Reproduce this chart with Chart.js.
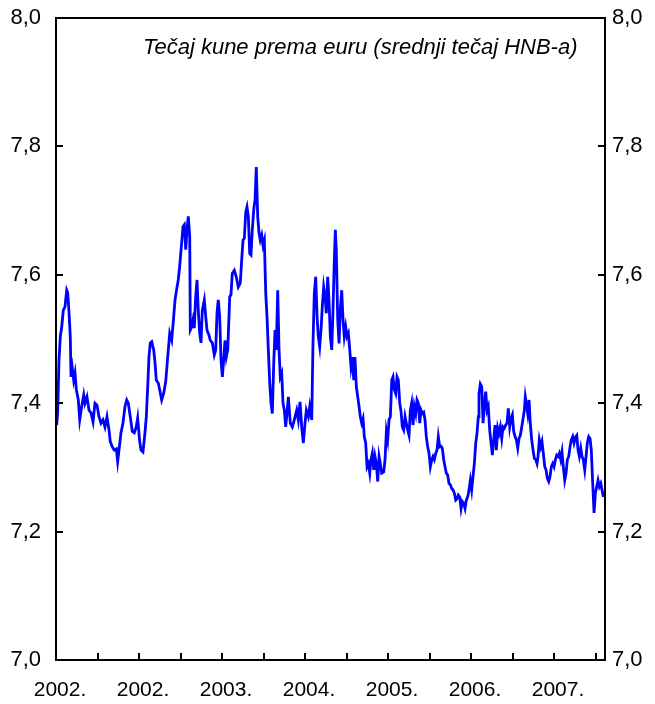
<!DOCTYPE html>
<html>
<head>
<meta charset="utf-8">
<script src="https://cdn.jsdelivr.net/npm/chart.js@4"></script>
<style>
html,body{margin:0;padding:0;background:#fff;}
#wrap{width:655px;height:704px;}
</style>
</head>
<body>
<div id="wrap"><canvas id="c" width="655" height="704"></canvas></div>
<script>
// Position in years from the start of the axis
const yearPos = [
0.008,0.020,0.036,0.052,0.069,0.088,0.108,0.129,0.141,0.157,0.172,0.181,0.196,0.213,0.229,0.245,0.269,0.286,0.310,0.334,
0.349,0.373,0.398,0.422,0.446,0.470,0.494,0.518,0.542,0.566,0.590,0.614,0.639,0.654,0.678,0.702,0.727,0.743,0.759,0.783,
0.807,0.831,0.852,0.871,0.895,0.919,0.943,0.967,0.984,
1.006,1.024,1.048,1.072,1.088,1.105,1.120,1.136,1.153,1.177,1.193,1.208,1.233,1.249,1.273,1.298,1.322,1.346,1.370,1.394,
1.418,1.434,1.458,1.473,1.490,1.514,1.530,1.546,1.563,1.578,1.594,1.611,1.618,1.635,1.651,1.666,1.683,1.699,1.714,1.731,
1.747,1.763,1.787,1.804,1.819,1.843,1.859,1.883,1.907,1.924,1.940,1.955,
1.972,1.988,2.004,2.020,2.036,2.052,2.069,2.093,2.108,2.124,2.148,2.172,2.196,2.220,2.237,2.253,2.269,2.286,2.301,2.317,
2.334,2.349,2.365,2.382,2.398,2.413,2.430,2.446,2.461,2.478,2.494,2.510,2.527,2.542,2.558,2.575,2.590,2.606,2.623,2.639,
2.654,2.671,2.687,2.702,2.719,2.735,2.751,2.767,2.783,2.799,2.823,2.847,2.871,
2.900,2.919,2.940,2.960,2.980,3.000,3.016,3.040,3.057,3.081,3.096,3.112,3.129,3.145,3.160,3.177,3.193,3.208,3.225,3.241,
3.257,3.273,3.289,3.305,3.322,3.337,3.353,3.365,3.377,3.394,3.410,3.425,3.442,3.458,3.473,3.490,3.506,3.522,3.539,3.554,
3.570,3.587,3.602,3.618,3.635,3.651,3.666,3.683,3.699,3.714,3.731,3.747,3.763,3.780,3.795,3.811,3.828,3.843,3.859,3.876,
3.892,3.907,3.924,3.948,3.964,3.980,3.996,4.012,4.028,4.045,4.060,4.076,4.093,4.108,4.124,4.141,4.157,4.172,4.189,4.205,
4.220,4.237,4.253,4.269,4.285,4.301,4.317,4.334,4.349,4.365,4.382,4.398,4.413,4.430,4.446,4.461,4.478,4.494,4.510,4.527,
4.542,4.558,4.575,4.590,4.606,4.623,4.639,4.654,4.671,4.687,4.702,4.719,4.735,4.751,4.767,4.783,4.799,
4.816,4.831,4.847,4.864,4.880,4.895,4.912,4.928,4.943,4.960,4.976,4.992,5.008,5.024,5.040,5.057,5.072,5.088,5.096,5.112,
5.129,5.145,5.160,5.177,5.193,5.208,5.225,5.241,5.257,5.273,5.289,5.305,5.322,5.337,5.353,5.370,5.386,5.401,5.418,5.434,
5.449,5.466,5.482,5.498,5.514,5.530,5.546,5.563,5.578,5.594,5.611,5.627,5.642,5.654,5.666,5.683,5.699,5.714,
5.731,5.747,5.763,5.780,5.795,5.807,5.823,5.840,5.855,5.871,5.888,5.904,5.919,5.936,5.952,5.967,5.984,6.000,6.016,6.033,
6.048,6.064,6.081,6.096,6.112,6.129,6.145,6.160,6.177,6.193,6.208,6.225,6.241,6.257,6.274,6.289,6.305,6.322,6.337,6.353,
6.370,6.386,6.401,6.418,6.434,6.449,6.466,6.482,6.498,6.514,6.530,6.546,6.563,6.578,6.594
];
// Kuna per euro (HNB middle rate)
const rate = [
7.366,7.385,7.467,7.504,7.519,7.545,7.550,7.576,7.572,7.541,7.504,7.441,7.455,7.436,7.447,7.421,7.405,7.374,7.395,7.413,
7.400,7.410,7.389,7.385,7.371,7.400,7.397,7.379,7.369,7.374,7.363,7.379,7.358,7.340,7.332,7.327,7.329,7.309,7.327,7.354,
7.369,7.395,7.405,7.400,7.379,7.356,7.354,7.363,7.377,
7.343,7.327,7.324,7.354,7.379,7.426,7.472,7.494,7.496,7.483,7.463,7.436,7.431,7.421,7.405,7.416,7.434,7.472,7.509,7.498,
7.535,7.561,7.581,7.592,7.613,7.650,7.675,7.678,7.639,7.670,7.691,7.659,7.514,7.519,7.530,7.517,7.566,7.592,7.545,7.509,
7.494,7.545,7.561,7.535,7.514,7.506,7.498,7.494,7.475,7.483,7.541,7.561,
7.535,7.467,7.441,7.467,7.498,7.472,7.483,7.566,7.569,7.602,7.607,7.597,7.581,7.587,7.623,7.654,7.657,7.698,7.706,7.691,
7.633,7.631,7.670,7.701,7.717,7.768,7.691,7.665,7.654,7.662,7.646,7.654,7.571,7.535,7.483,7.431,7.400,7.384,7.462,7.514,
7.483,7.576,7.483,7.441,7.447,7.400,7.389,7.363,7.384,7.410,7.369,7.363,7.374,
7.389,7.374,7.402,7.363,7.338,7.369,7.389,7.379,7.395,7.374,7.493,7.571,7.597,7.535,7.504,7.488,7.514,7.550,7.581,7.566,
7.540,7.597,7.561,7.504,7.483,7.545,7.623,7.670,7.639,7.530,7.493,7.545,7.576,7.530,7.504,7.519,7.504,7.509,7.483,7.457,
7.472,7.436,7.472,7.426,7.410,7.395,7.379,7.369,7.376,7.348,7.338,7.301,7.306,7.291,7.312,7.322,7.296,7.317,7.306,7.278,
7.317,7.306,7.291,7.293,7.312,7.356,7.343,7.374,7.379,7.436,7.441,7.421,7.415,7.441,7.436,7.400,7.387,7.363,7.358,7.379,
7.369,7.358,7.350,7.389,7.400,7.366,7.395,7.384,7.405,7.400,7.369,7.389,7.384,7.386,7.374,7.348,7.332,7.322,7.301,7.312,
7.317,7.312,7.322,7.327,7.348,7.332,7.333,7.330,7.312,7.301,7.291,7.288,7.275,7.273,7.267,7.265,7.260,
7.249,7.251,7.257,7.254,7.236,7.247,7.244,7.236,7.249,7.254,7.265,7.280,7.265,7.286,7.306,7.338,7.353,7.379,7.415,7.430,
7.426,7.369,7.395,7.418,7.389,7.395,7.358,7.338,7.319,7.343,7.366,7.327,7.361,7.353,7.363,7.345,7.363,7.361,7.366,7.369,
7.392,7.363,7.376,7.382,7.356,7.348,7.343,7.330,7.345,7.350,7.363,7.376,7.389,7.410,7.400,7.384,7.405,7.369,
7.343,7.327,7.314,7.312,7.306,7.317,7.343,7.332,7.340,7.322,7.301,7.296,7.283,7.278,7.286,7.301,7.306,7.301,7.312,7.319,
7.317,7.322,7.312,7.324,7.301,7.280,7.291,7.312,7.317,7.332,7.343,7.348,7.338,7.347,7.350,7.327,7.317,7.330,7.317,7.312,
7.296,7.317,7.338,7.348,7.345,7.327,7.275,7.229,7.260,7.270,7.280,7.270,7.275,7.265,7.254
];
// Year labels at the yearly tick marks
const yearLabels = ['2002.','2002.','2003.','2004.','2005.','2006.','2007.'];
const titleText = 'Tečaj kune prema euru (srednji tečaj HNB-a)';
const yMin = 7.0, yMax = 8.0, yStep = 0.2;
const xMax = 6.614, xStep = 0.5;

const points = yearPos.map((x, i) => ({x: x, y: rate[i]}));
const FONT = "'Liberation Sans', Arial, sans-serif";

const frame = {
  id: 'frame',
  afterDatasetsDraw(chart) {
    const {ctx, chartArea: a, scales} = chart;
    ctx.save();
    ctx.strokeStyle = '#000';
    ctx.lineWidth = 2;
    ctx.lineCap = 'butt';
    ctx.beginPath();
    scales.x.ticks.forEach(t => {
      const px = Math.round(scales.x.getPixelForValue(t.value));
      ctx.moveTo(px, a.bottom);
      ctx.lineTo(px, a.bottom - 7);
    });
    scales.y.ticks.forEach(t => {
      const py = Math.round(scales.y.getPixelForValue(t.value));
      ctx.moveTo(a.left, py);
      ctx.lineTo(a.left + 7, py);
      ctx.moveTo(a.right, py);
      ctx.lineTo(a.right - 7, py);
    });
    ctx.stroke();
    ctx.strokeRect(a.left, a.top, a.right - a.left, a.bottom - a.top);
    // inner title
    ctx.fillStyle = '#000';
    ctx.font = 'italic 22px ' + FONT;
    ctx.textAlign = 'left';
    ctx.textBaseline = 'middle';
    ctx.fillText(titleText, a.left + 87, a.top + 30);
    ctx.restore();
  }
};

function fixV(w) {
  return function (s) { s.width = w; s.paddingTop = 0; s.paddingBottom = 0; };
}

new Chart(document.getElementById('c'), {
  type: 'line',
  data: {
    datasets: [{
      data: points,
      borderColor: '#0000FF',
      borderWidth: 2.8,
      pointRadius: 0,
      tension: 0,
      fill: false
    }]
  },
  options: {
    responsive: false,
    animation: false,
    layout: {padding: {top: 18, left: 0, right: 0, bottom: 0}},
    plugins: {legend: {display: false}, tooltip: {enabled: false}, title: {display: false}},
    scales: {
      x: {
        type: 'linear', min: 0, max: xMax,
        afterBuildTicks(s) {
          const t = [];
          for (let v = 0; v <= xMax + 1e-9; v += xStep) t.push({value: Math.round(v * 10) / 10});
          s.ticks = t;
        },
        afterFit(s) { s.height = 44; s.paddingLeft = 0; s.paddingRight = 0; },
        grid: {display: false, drawTicks: false},
        border: {display: false},
        ticks: {
          autoSkip: false, maxRotation: 0, padding: 18, labelOffset: 4,
          color: '#000', font: {family: FONT, size: 21},
          callback: v => (Number.isInteger(v) && yearLabels[v] !== undefined) ? yearLabels[v] : ''
        }
      },
      y: {
        position: 'left', min: yMin, max: yMax,
        afterFit: fixV(56),
        grid: {display: false, drawTicks: false},
        border: {display: false},
        ticks: {stepSize: yStep, padding: 15, color: '#000', font: {family: FONT, size: 22},
          callback: v => v.toFixed(1).replace('.', ',')}
      },
      y2: {
        position: 'right', min: yMin, max: yMax,
        afterFit: fixV(50),
        grid: {display: false, drawTicks: false},
        border: {display: false},
        ticks: {stepSize: yStep, padding: 7, color: '#000', font: {family: FONT, size: 22},
          callback: v => v.toFixed(1).replace('.', ',')}
      }
    }
  },
  plugins: [frame]
});
</script>
</body>
</html>
